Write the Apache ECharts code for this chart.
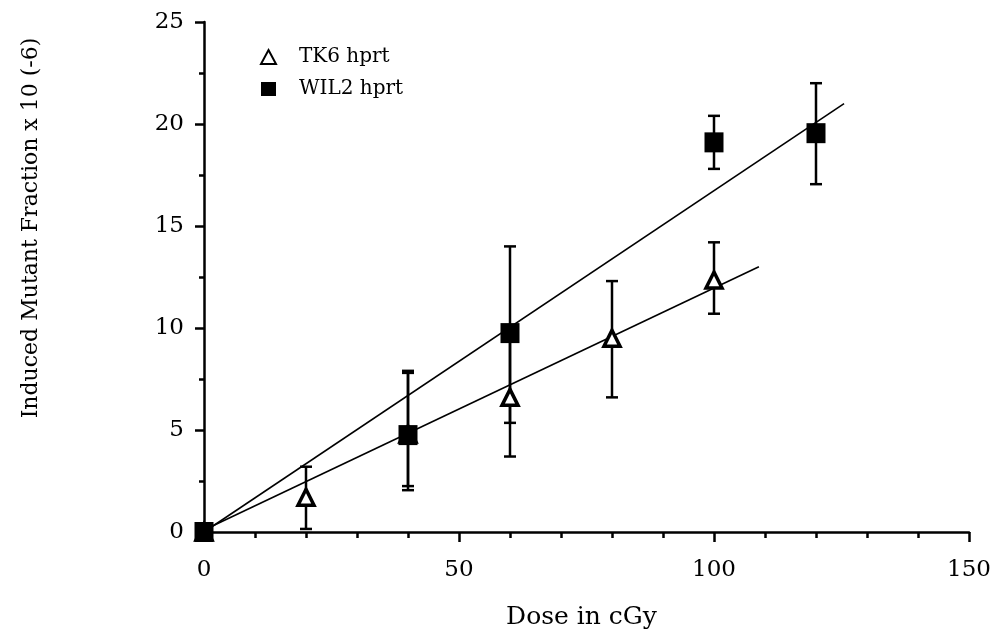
<!DOCTYPE html>
<html>
<head>
<meta charset="utf-8">
<script src="https://cdn.jsdelivr.net/npm/echarts@6/dist/echarts.min.js"></script>
<style>
  html, body { margin: 0; padding: 0; background: #fff; }
  #chart { width: 995px; height: 637px; }
</style>
</head>
<body>
<div id="chart"></div>
<script>
// 数据：剂量 (cGy) 与诱导突变频率
const tk6Dose = [0, 20, 40, 60, 80, 100]
const tk6Mean = [0, 1.7, 4.8, 6.6, 9.5, 12.35]
const tk6Low = [0, 0.15, 2.25, 3.7, 6.6, 10.7]
const tk6High = [0, 3.2, 7.8, 9.5, 12.3, 14.2]

const wilDose = [0, 40, 60, 100, 120]
const wilMean = [0, 4.75, 9.75, 19.1, 19.55]
const wilLow = [0, 2.05, 5.35, 17.8, 17.05]
const wilHigh = [0, 7.9, 14.0, 20.4, 22.0]

// 拟合直线端点
const tk6Fit = [[0, 0.1], [108.8, 13.0]]
const wilFit = [[0, 0], [125.5, 21.0]]

const xTitle = 'Dose in cGy'
const yTitle = 'Induced Mutant Fraction x 10 (-6)'

const serif = '"DejaVu Serif", "Liberation Serif", serif'

const pts = (xs, ys) => xs.map((x, i) => [x, ys[i]])
const bars = (xs, lo, hi) => xs.map((x, i) => [x, lo[i], hi[i]])

// 误差棒
const errorBar = (name, data) => ({
  name: name,
  type: 'custom',
  data: data,
  z: 3,
  renderItem: (params, api) => {
    const lo = api.coord([api.value(0), api.value(1)])
    const hi = api.coord([api.value(0), api.value(2)])
    const w = 6
    const style = { stroke: '#000', lineWidth: 2.5 }
    return {
      type: 'group',
      children: [
        { type: 'line', shape: { x1: lo[0], y1: lo[1], x2: hi[0], y2: hi[1] }, style },
        { type: 'line', shape: { x1: lo[0] - w, y1: lo[1], x2: lo[0] + w, y2: lo[1] }, style },
        { type: 'line', shape: { x1: hi[0] - w, y1: hi[1], x2: hi[0] + w, y2: hi[1] }, style }
      ]
    }
  }
})

const chart = echarts.init(document.getElementById('chart'))

const option = {
  animation: false,
  backgroundColor: '#fff',
  textStyle: { fontFamily: serif, color: '#000' },
  grid: { left: 204, right: 26, top: 22, bottom: 105, containLabel: false },
  legend: {
    orient: 'vertical',
    left: 255,
    top: 42,
    itemGap: 12,
    itemWidth: 15,
    itemHeight: 14,
    textStyle: { fontFamily: serif, fontSize: 20, lineHeight: 14, color: '#000', padding: [0, 0, 0, 18] },
    data: ['TK6 hprt', 'WIL2 hprt']
  },
  graphic: [
    {
      type: 'text',
      x: 31,
      y: 228,
      rotation: Math.PI / 2,
      style: {
        text: yTitle,
        fontFamily: serif,
        fontSize: 22,
        fill: '#000',
        align: 'center',
        verticalAlign: 'middle'
      }
    }
  ],
  xAxis: {
    type: 'value',
    min: 0,
    max: 150,
    interval: 50,
    name: xTitle,
    nameLocation: 'middle',
    nameGap: 73,
    nameTextStyle: { fontFamily: serif, fontSize: 25, color: '#000', padding: [0, 10, 0, 0] },
    axisLine: { show: true, onZero: false, lineStyle: { color: '#000', width: 2.5 } },
    axisTick: { show: true, length: 10, lineStyle: { color: '#000', width: 2.5 } },
    minorTick: { show: true, splitNumber: 5, length: 6, lineStyle: { color: '#000', width: 2.5 } },
    axisLabel: { fontFamily: serif, fontSize: 23, color: '#000', margin: 27 },
    splitLine: { show: false }
  },
  yAxis: {
    type: 'value',
    min: 0,
    max: 25,
    interval: 5,
    axisLine: { show: true, lineStyle: { color: '#000', width: 2.5 } },
    axisTick: { show: true, length: 9, lineStyle: { color: '#000', width: 2.5 } },
    minorTick: { show: true, splitNumber: 2, length: 5, lineStyle: { color: '#000', width: 2.5 } },
    axisLabel: { fontFamily: serif, fontSize: 23, color: '#000', margin: 20 },
    splitLine: { show: false }
  },
  series: [
    {
      name: 'TK6 fit',
      type: 'line',
      data: tk6Fit,
      symbol: 'none',
      lineStyle: { color: '#000', width: 1.6 },
      z: 2
    },
    {
      name: 'WIL2 fit',
      type: 'line',
      data: wilFit,
      symbol: 'none',
      lineStyle: { color: '#000', width: 1.6 },
      z: 2
    },
    errorBar('TK6 err', bars(tk6Dose, tk6Low, tk6High)),
    errorBar('WIL2 err', bars(wilDose, wilLow, wilHigh)),
    {
      name: 'TK6 hprt',
      type: 'scatter',
      data: pts(tk6Dose, tk6Mean),
      symbol: 'triangle',
      symbolSize: [16, 16],
      itemStyle: { color: '#fff', borderColor: '#000', borderWidth: 3.5, opacity: 1 },
      z: 4
    },
    {
      name: 'WIL2 hprt',
      type: 'scatter',
      data: pts(wilDose, wilMean),
      symbol: 'rect',
      symbolSize: [19, 20],
      itemStyle: { color: '#000', borderColor: '#000', borderWidth: 0, opacity: 1 },
      z: 5
    }
  ]
}

chart.setOption(option)
</script>
</body>
</html>
